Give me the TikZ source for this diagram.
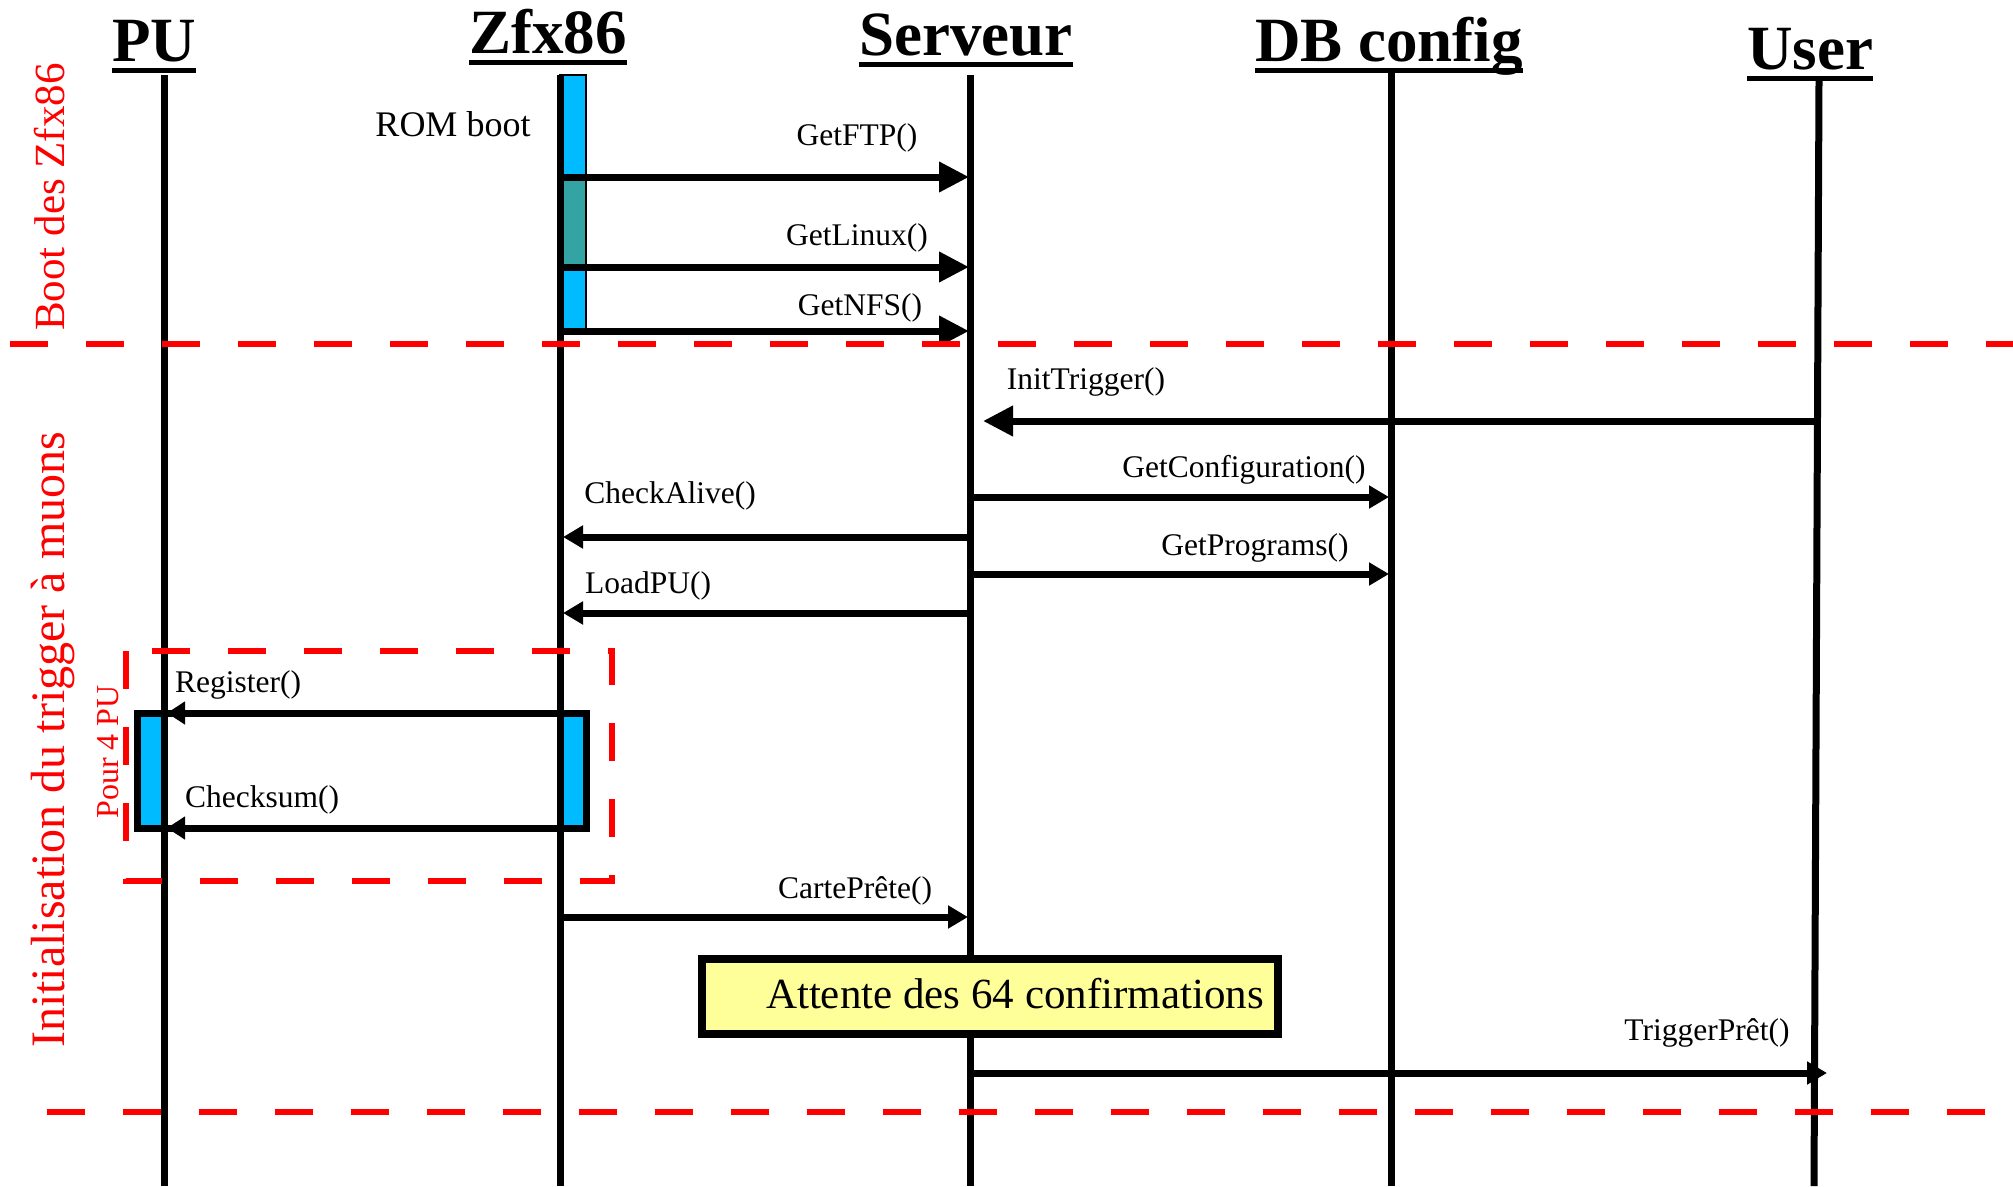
\documentclass[tikz,border=0pt]{standalone}
\usepackage{fontspec}
\setmainfont{Liberation Serif}
\usetikzlibrary{arrows.meta}
\definecolor{actblue}{RGB}{0,187,255}
\definecolor{actteal}{RGB}{51,163,163}
\definecolor{notefill}{RGB}{255,255,153}
\definecolor{phasered}{RGB}{255,0,0}

\begin{document}
\begin{tikzpicture}[x=1pt,y=-1pt,
  lifeline/.style={line width=7pt},
  title/.style={font=\fontsize{63}{70}\selectfont\bfseries, inner sep=0pt, anchor=base},
  msgtext/.style={font=\fontsize{31.5}{36}\selectfont, inner sep=0pt, anchor=base},
  bigmsg/.style={line width=7pt, -{Triangle[length=30pt,width=29pt]}},
  msg/.style={line width=7pt, -{Triangle[length=20pt,width=22pt]}},
  phase/.style={draw=phasered, line width=6.5pt, dash pattern=on 38pt off 38pt},
  phasetext/.style={text=phasered, rotate=90, inner sep=0pt, anchor=base},
  actbar/.style={draw=black, line width=2pt},
]
\useasboundingbox (0,0) rectangle (2013,1186);

% ---- object headers ----
\node[title] (tPU) at (154,61) {PU};
\node[title] (tZ)  at (548,53) {Zfx86};
\node[title] (tS)  at (966,55) {Serveur};
\node[title] (tDB) at (1389,61) {DB config};
\node[title] (tU)  at (1810,69) {User};
\foreach \t in {tPU,tZ,tS,tDB,tU}
  \draw[line width=5pt] ([yshift=-9pt]\t.base west) -- ([yshift=-9pt]\t.base east);

% ---- lifeline end points ----
\coordinate (puTop) at (164,75);   \coordinate (puBot) at (164,1186);
\coordinate (zTop)  at (560,75);   \coordinate (zBot)  at (560,1186);
\coordinate (sTop)  at (970,75);   \coordinate (sBot)  at (970,1186);
\coordinate (dbTop) at (1391,73);  \coordinate (dbBot) at (1391,1186);
\coordinate (uTop)  at (1819,81);  \coordinate (uBot)  at (1814,1186);

% ---- activation bars ----
\filldraw[actbar, fill=actblue] (560,75) rectangle (586,177);
\filldraw[actbar, fill=actteal] (560,177) rectangle (586,267);
\filldraw[actbar, fill=actblue] (560,267) rectangle (586,331);
\fill[actblue] (137,713) rectangle (164,828);
\fill[actblue] (560,713) rectangle (586,828);

% ---- lifelines ----
\draw[lifeline] (puTop) -- (puBot);
\draw[lifeline] (zTop) -- (zBot);
\draw[lifeline] (sTop) -- (sBot);
\draw[lifeline] (dbTop) -- (dbBot);
\draw[lifeline] (uTop) -- (uBot);

% ---- boot of the Zfx86 ----
\node[msgtext, font=\fontsize{36}{40}\selectfont] (rom) at (453,136) {ROM boot};

\coordinate (z1) at (560,177); \coordinate (s1) at (969,177);
\draw[bigmsg] (z1) -- (s1);
\node[msgtext] (l1) at (857,145) {GetFTP()};

\coordinate (z2) at (560,267); \coordinate (s2) at (969,267);
\draw[bigmsg] (z2) -- (s2);
\node[msgtext] (l2) at (857,245) {GetLinux()};

\coordinate (z3) at (560,331); \coordinate (s3) at (969,331);
\draw[bigmsg] (z3) -- (s3);
\node[msgtext] (l3) at (860,315) {GetNFS()};

% ---- trigger initialisation ----
\coordinate (u4) at (1818,421); \coordinate (s4) at (983,421);
\draw[bigmsg] (u4) -- (s4);
\node[msgtext] (l4) at (1086,389) {InitTrigger()};

\coordinate (s5) at (970,497); \coordinate (db5) at (1389,497);
\draw[msg] (s5) -- (db5);
\node[msgtext] (l5) at (1244,477) {GetConfiguration()};

\coordinate (s6) at (970,537); \coordinate (z6) at (563,537);
\draw[msg] (s6) -- (z6);
\node[msgtext] (l6) at (670,503) {CheckAlive()};

\coordinate (s7) at (970,574); \coordinate (db7) at (1389,574);
\draw[msg] (s7) -- (db7);
\node[msgtext] (l7) at (1255,555) {GetPrograms()};

\coordinate (s8) at (970,613); \coordinate (z8) at (563,613);
\draw[msg] (s8) -- (z8);
\node[msgtext] (l8) at (648,593) {LoadPU()};

% ---- loop over the PU ----
\draw[line width=7pt] (137.5,713) rectangle (586,828);
\coordinate (z9) at (560,713); \coordinate (p9) at (167,713);
\draw[line width=7pt, -{Triangle[length=18pt,width=22pt]}] (z9) -- (p9);
\node[msgtext] (l9) at (238,692) {Register()};

\coordinate (z10) at (560,828); \coordinate (p10) at (167,828);
\draw[line width=7pt, -{Triangle[length=18pt,width=22pt]}] (z10) -- (p10);
\node[msgtext] (l10) at (262,807) {Checksum()};

\draw[phase] (126,651) rectangle (612,881);
\node[phasetext, font=\fontsize{32}{36}\selectfont] (pour) at (118,752) {Pour 4 PU};

\coordinate (z11) at (560,917); \coordinate (s11) at (968,917);
\draw[msg] (z11) -- (s11);
\node[msgtext] (l11) at (855,898) {CartePrête()};

\node[draw, line width=8pt, fill=notefill, minimum width=576pt, minimum height=75pt, inner sep=0pt] (wait) at (990,996.5) {};
\node[msgtext, font=\fontsize{43}{48}\selectfont] (waittxt) at (1015,1008) {Attente des 64 confirmations};

\coordinate (s12) at (970,1073); \coordinate (u12) at (1827,1073);
\draw[msg] (s12) -- (u12);
\node[msgtext] (l12) at (1707,1040) {TriggerPrêt()};

% ---- phase separators and labels ----
\coordinate (ph1a) at (10,344);  \coordinate (ph1b) at (2013,344);
\coordinate (ph2a) at (47,1112); \coordinate (ph2b) at (2013,1112);
\draw[phase] (ph1a) -- (ph1b);
\draw[phase] (ph2a) -- (ph2b);
\node[phasetext, font=\fontsize{43}{48}\selectfont] (boot) at (64,197) {Boot des Zfx86};
\node[phasetext, font=\fontsize{48}{54}\selectfont] (init) at (64,740) {Initialisation du trigger à muons};
\end{tikzpicture}
\end{document}
